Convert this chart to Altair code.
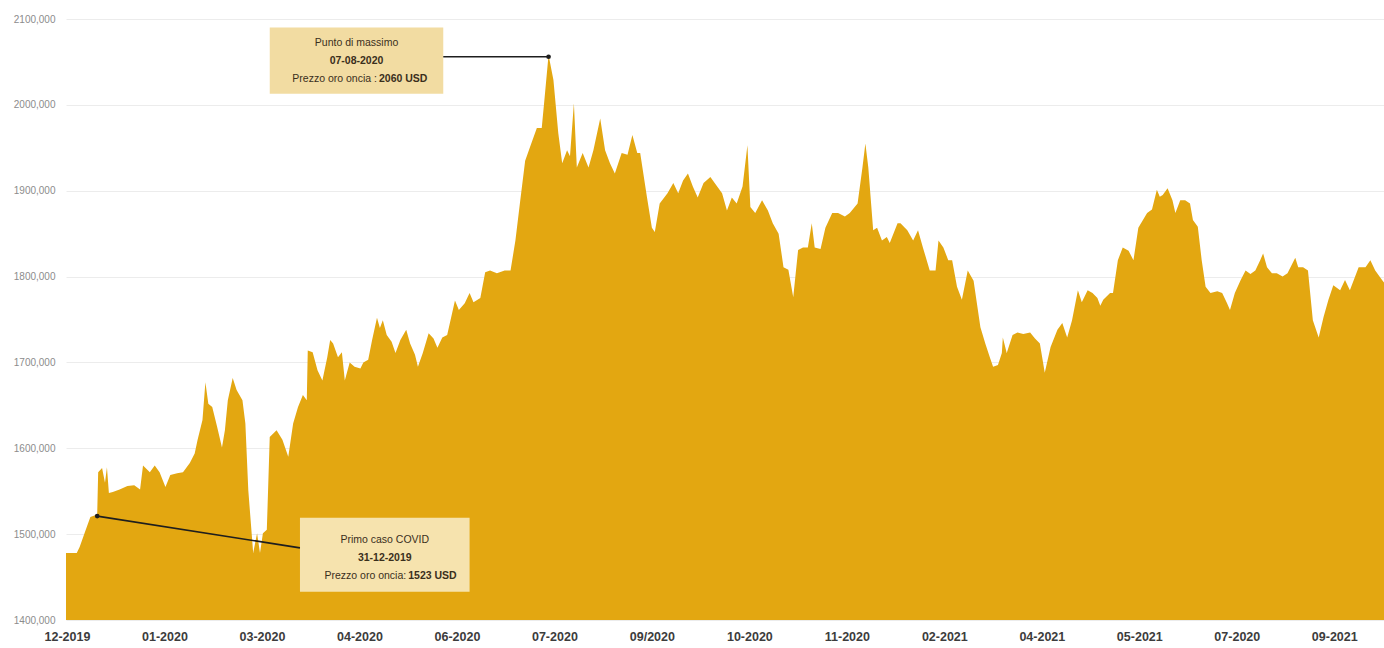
import altair as alt
import pandas as pd

# Posizione nel tempo (unità: 100 = un'etichetta dell'asse) e prezzo dell'oro (USD/oncia)
t_vals = [-1, 10, 13, 18, 24, 31, 32, 36, 39, 41, 43, 47, 54, 62, 69, 75, 78, 85, 90, 95,
          101, 106, 113, 119, 126, 131, 134, 139, 142, 145, 149, 154, 159, 162, 165, 170, 174, 180, 183, 186,
          190, 191, 195, 198, 201, 205, 208, 215, 221, 227, 232, 237, 242, 246, 247, 252, 257, 262, 267, 270,
          273, 278, 282, 285, 290, 295, 301, 304, 309, 313, 318, 321, 324, 328, 333, 337, 342, 348, 352, 357,
          360, 365, 371, 376, 380, 385, 390, 395, 398, 402, 408, 413, 417, 424, 429, 434, 441, 449, 455, 460,
          465, 470, 475, 482, 487, 490, 494, 499, 504, 508, 513, 516, 520, 523, 529, 535, 540, 547, 552, 557,
          562, 569, 575, 580, 585, 588, 595, 600, 603, 608, 616, 622, 627, 632, 637, 642, 647, 653, 660, 667,
          672, 677, 682, 687, 693, 698, 701, 706, 713, 719, 724, 730, 735, 740, 745, 750, 755, 760, 764, 767,
          773, 778, 785, 791, 798, 803, 811, 816, 819, 822, 827, 831, 836, 841, 844, 852, 855, 862, 868, 873,
          878, 885, 891, 894, 899, 904, 908, 913, 918, 924, 930, 937, 942, 947, 950, 955, 959, 960, 964, 970,
          975, 981, 988, 993, 998, 1003, 1009, 1016, 1021, 1026, 1031, 1037, 1041, 1047, 1052, 1057, 1060, 1063, 1070, 1073,
          1078, 1083, 1089, 1094, 1099, 1108, 1113, 1118, 1121, 1124, 1129, 1134, 1137, 1142, 1147, 1152, 1155, 1160, 1164, 1168,
          1173, 1180, 1185, 1190, 1193, 1198, 1204, 1209, 1214, 1219, 1224, 1227, 1231, 1236, 1241, 1247, 1252, 1260, 1263, 1268,
          1273, 1278, 1284, 1289, 1294, 1299, 1306, 1311, 1316, 1325, 1332, 1337, 1342, 1349, 1351]

prezzi = [1478, 1478, 1485, 1501, 1520, 1523, 1572, 1577, 1560, 1578, 1548, 1549, 1552, 1556, 1557, 1552, 1580, 1572, 1580, 1572,
          1555, 1569, 1571, 1572, 1583, 1594, 1610, 1633, 1677, 1652, 1648, 1625, 1601, 1621, 1656, 1682, 1668, 1656, 1629, 1551,
          1493, 1478, 1501, 1478, 1501, 1505, 1613, 1621, 1610, 1590, 1629, 1648, 1662, 1656, 1714, 1712, 1691, 1679, 1706, 1726,
          1722, 1706, 1712, 1679, 1700, 1695, 1693, 1700, 1703, 1726, 1752, 1740, 1749, 1732, 1724, 1711, 1726, 1738, 1722, 1709,
          1695, 1711, 1734, 1728, 1717, 1729, 1732, 1757, 1772, 1761, 1769, 1781, 1770, 1775, 1805, 1807, 1804, 1807, 1807, 1842,
          1889, 1935, 1951, 1973, 1973, 2009, 2058, 2029, 1967, 1932, 1947, 1940, 2002, 1927, 1944, 1927, 1947, 1984, 1947, 1932,
          1920, 1944, 1942, 1965, 1944, 1944, 1892, 1857, 1852, 1885, 1897, 1909, 1897, 1912, 1920, 1905, 1892, 1909, 1916, 1905,
          1897, 1877, 1892, 1885, 1905, 1953, 1881, 1874, 1889, 1877, 1862, 1850, 1811, 1808, 1776, 1831, 1834, 1834, 1862, 1834,
          1832, 1857, 1874, 1874, 1870, 1874, 1885, 1927, 1955, 1927, 1854, 1857, 1842, 1846, 1839, 1862, 1862, 1854, 1842, 1854,
          1834, 1807, 1807, 1842, 1834, 1819, 1819, 1788, 1773, 1807, 1795, 1741, 1722, 1705, 1695, 1697, 1711, 1729, 1711, 1732,
          1735, 1733, 1735, 1728, 1722, 1688, 1718, 1738, 1746, 1729, 1749, 1784, 1770, 1784, 1781, 1775, 1766, 1773, 1781, 1781,
          1819, 1834, 1830, 1819, 1857, 1874, 1878, 1901, 1893, 1895, 1903, 1889, 1874, 1889, 1889, 1885, 1866, 1858, 1819, 1788,
          1781, 1783, 1781, 1769, 1761, 1781, 1796, 1807, 1803, 1807, 1819, 1827, 1811, 1804, 1804, 1800, 1804, 1822, 1811, 1811,
          1807, 1749, 1729, 1753, 1773, 1790, 1784, 1796, 1784, 1811, 1811, 1819, 1807, 1796, 1793]

x_tick_labels = ["12-2019", "01-2020", "03-2020", "04-2020", "06-2020", "07-2020", "09/2020",
                 "10-2020", "11-2020", "02-2021", "04-2021", "05-2021", "07-2020", "09-2021"]
x_tick_values = [0, 100, 200, 300, 400, 500, 600, 700, 800, 900, 1000, 1100, 1200, 1300]
y_tick_values = [1400, 1500, 1600, 1700, 1800, 1900, 2000, 2100]

GOLD = "#E3A711"
TXT = "#3a2f1c"

xscale = alt.Scale(domain=[-1, 1351], nice=False, zero=False)
yscale = alt.Scale(domain=[1400, 2100], nice=False, zero=False)

df = pd.DataFrame({"t": t_vals, "prezzo": prezzi})

label_js = "[" + ",".join("'%s'" % s for s in x_tick_labels) + "][round(datum.value/100)]"

area = alt.Chart(df).mark_area(color=GOLD, interpolate="linear", clip=True).encode(
    x=alt.X("t:Q", scale=xscale,
            axis=alt.Axis(values=x_tick_values, labelExpr=label_js, grid=False, ticks=False,
                          domain=False, title=None, labelFont="Liberation Sans", labelFontWeight="bold",
                          labelFontSize=12.5, labelColor="#3c3c3c", labelPadding=10,
                          labelFlush=False, labelOverlap=False)),
    y=alt.Y("prezzo:Q", scale=yscale,
            axis=alt.Axis(values=y_tick_values,
                          labelExpr="replace(format(datum.value, '.3f'), '.', ',')",
                          grid=True, gridColor="#ececec", gridWidth=1, ticks=False, domain=False,
                          title=None, labelFont="Liberation Sans", labelFontSize=10,
                          labelColor="#8c8c8c", labelPadding=11, labelFlush=False)),
    y2=alt.datum(1400),
)

# Annotation boxes
boxes = pd.DataFrame({
    "x1": [208, 239], "x2": [386, 413],
    "y1": [2013, 1433], "y2": [2090, 1519],
    "fill": ["#F2DCA2", "#F6E3AE"],
})
box_layer = alt.Chart(boxes).mark_rect().encode(
    x=alt.X("x1:Q", scale=xscale, title=None), x2="x2:Q",
    y=alt.Y("y1:Q", scale=yscale, title=None), y2="y2:Q",
    color=alt.Color("fill:N", scale=None),
)

# Connector lines
lines = pd.DataFrame({"xa": [386, 31], "xb": [494, 239], "ya": [2056, 1521], "yb": [2056, 1484]})
line_layer = alt.Chart(lines).mark_rule(color="#1e1e1e", strokeWidth=1.6).encode(
    x=alt.X("xa:Q", scale=xscale, title=None), x2="xb:Q",
    y=alt.Y("ya:Q", scale=yscale, title=None), y2="yb:Q",
)
dots = pd.DataFrame({"xp": [494, 31], "yp": [2056, 1521]})
dot_layer = alt.Chart(dots).mark_circle(color="#1e1e1e", size=22, opacity=1).encode(
    x=alt.X("xp:Q", scale=xscale, title=None),
    y=alt.Y("yp:Q", scale=yscale, title=None),
)

# Texts
tx = pd.DataFrame({
    "xt": [297, 297, 326, 326],
    "yt": [2072, 2051, 1493, 1472],
    "txt": ["Punto di massimo", "07-08-2020", "Primo caso COVID", "31-12-2019"],
    "w": ["normal", "bold", "normal", "bold"],
})
center_norm = alt.Chart(tx[tx.w == "normal"]).mark_text(
    font="Liberation Sans", fontSize=10.5, color=TXT, align="center", baseline="middle").encode(
    x=alt.X("xt:Q", scale=xscale, title=None), y=alt.Y("yt:Q", scale=yscale, title=None), text="txt:N")
center_bold = alt.Chart(tx[tx.w == "bold"]).mark_text(
    font="Liberation Sans", fontSize=10.5, fontWeight="bold", color=TXT, align="center", baseline="middle").encode(
    x=alt.X("xt:Q", scale=xscale, title=None), y=alt.Y("yt:Q", scale=yscale, title=None), text="txt:N")

p3 = pd.DataFrame({"xt": [318, 348], "yt": [2030, 1451],
                   "a": ["Prezzo oro oncia : ", "Prezzo oro oncia: "],
                   "b": ["2060 USD", "1523 USD"]})
left_part = alt.Chart(p3).mark_text(
    font="Liberation Sans", fontSize=10.5, color=TXT, align="right", baseline="middle").encode(
    x=alt.X("xt:Q", scale=xscale, title=None), y=alt.Y("yt:Q", scale=yscale, title=None), text="a:N")
right_part = alt.Chart(p3).mark_text(
    font="Liberation Sans", fontSize=10.5, fontWeight="bold", color=TXT, align="left", baseline="middle", dx=2).encode(
    x=alt.X("xt:Q", scale=xscale, title=None), y=alt.Y("yt:Q", scale=yscale, title=None), text="b:N")

chart = alt.layer(area, box_layer, line_layer, dot_layer, center_norm, center_bold, left_part, right_part).properties(
    width=1318, height=601,
    autosize=alt.AutoSizeParams(type="none"),
    padding={"left": 66, "top": 19, "right": 0, "bottom": 28},
    background="white",
).configure_view(stroke=None)

chart.save("out.html", embed_options={"renderer": "svg", "actions": False})
